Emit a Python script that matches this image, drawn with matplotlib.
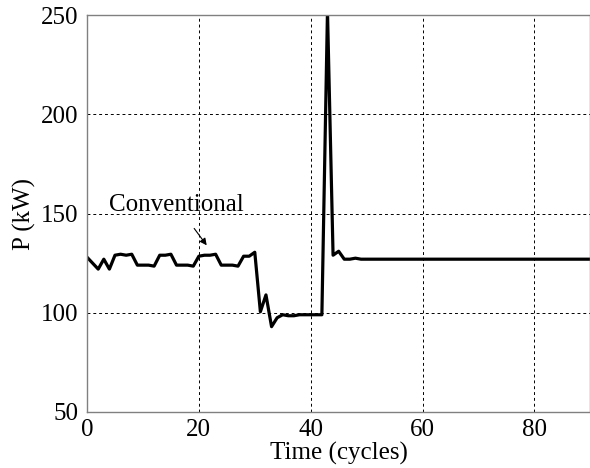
import matplotlib.pyplot as plt

plt.rcParams['font.family'] = ['Liberation Serif', 'DejaVu Serif']

# power per cycle
cycles = list(range(0, 91))
power = [128, 125, 122, 127, 122, 129, 129.5, 129, 129.5, 124,
         124, 124, 123.5, 129, 129, 129.5, 124, 124, 124, 123.5,
         128.5, 129, 129, 129.5, 124, 124, 124, 123.5, 128.5, 128.5,
         130.5, 100.5, 109, 93, 97.5, 99, 98.5, 98.5, 99, 99,
         99, 99, 99, 252, 129, 131, 127, 127, 127.5, 127] + [127] * 41

x_ticks = [0, 20, 40, 60, 80]
y_ticks = [50, 100, 150, 200, 250]

fig = plt.figure(figsize=(5.9, 4.68), dpi=100)
ax = fig.add_axes([0.1475, 0.1197, 0.853, 0.848])

ax.plot(cycles, power, color='black', linewidth=2.3)

ax.set_xlim(0, 90)
ax.set_ylim(50, 250)
ax.set_xticks(x_ticks)
ax.set_yticks(y_ticks)
ax.tick_params(length=0, labelsize=18)
ax.tick_params(axis='x', pad=5)
ax.tick_params(axis='y', pad=6)
ax.grid(True, color='black', linestyle=(0, (3, 3)), linewidth=0.7)
for s in ax.spines.values():
    s.set_color('#808080')
    s.set_linewidth(1.0)

ax.set_xlabel('Time (cycles)', fontsize=18, labelpad=1)
ax.set_ylabel('P (kW)', fontsize=18, labelpad=4)

ax.annotate('Conventional', xy=(21.4, 134), xytext=(16, 154.5),
            fontsize=18, ha='center', va='center',
            arrowprops=dict(arrowstyle='-|>', color='black', lw=0.8,
                            mutation_scale=10, shrinkA=9, shrinkB=0))

fig.savefig('out.png', dpi=100)
